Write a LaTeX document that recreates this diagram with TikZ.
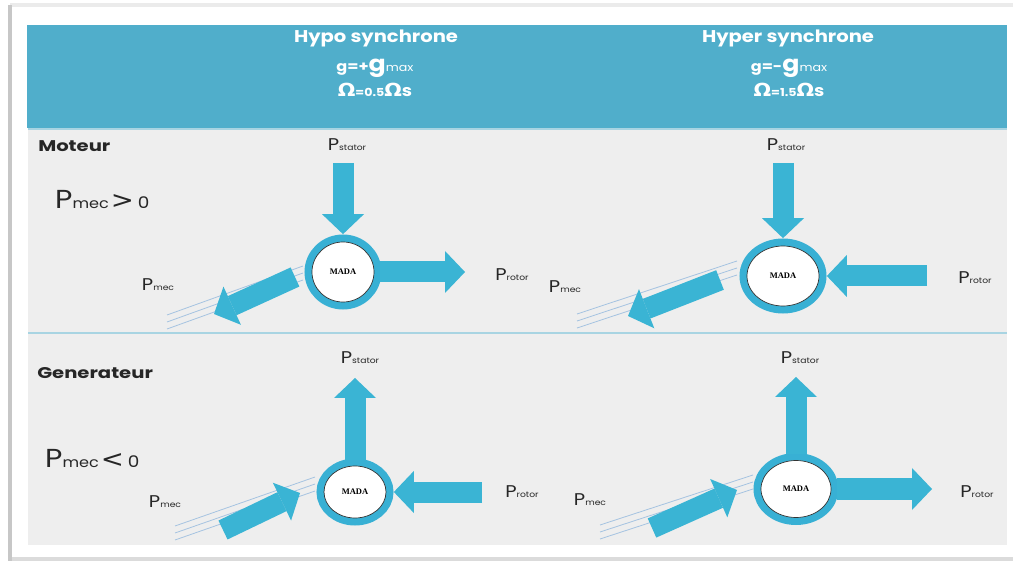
\documentclass[tikz,border=0pt]{standalone}
\usepackage{fontspec}
\setmainfont{Poppins}
\newfontfamily\grk{DejaVu Sans}
\newfontfamily\madafont{Liberation Serif}
\usetikzlibrary{arrows.meta,shapes.geometric}

\definecolor{headblue}{RGB}{80,174,203}
\definecolor{flowblue}{RGB}{58,180,212}
\definecolor{ringblue}{RGB}{56,176,212}
\definecolor{panelgrey}{RGB}{238,238,238}
\definecolor{shaftline}{RGB}{165,195,225}
\definecolor{rulelight}{RGB}{168,212,226}

\newcommand{\pl}[1]{{\fontsize{17}{17}\selectfont P}{\fontsize{8}{8}\selectfont #1}}
\newcommand{\om}{{\grk\bfseries\fontsize{18}{18}\selectfont Ω}}

\tikzset{
  flux/.style={draw=flowblue, line width=21pt, -{Triangle[width=42pt,length=20pt,line width=0pt]}},
  mada/.style={ellipse, draw=black!80, line width=0.7pt, fill=white, inner sep=0pt,
    preaction={draw=ringblue, line width=15pt},
    font=\madafont\bfseries\fontsize{8.5}{8.5}\selectfont},
  shaft/.style={draw=shaftline, line width=0.8pt},
  lab/.style={inner sep=0pt, xscale=1.15, text=black!85},
  headtxt/.style={inner sep=0pt, xscale=1.15, text=white, font=\bfseries\fontsize{17}{17}\selectfont},
}

\begin{document}
\begin{tikzpicture}[x=1pt,y=-1pt]
\useasboundingbox (0,0) rectangle (1013,561);
% page
\fill[white] (0,0) rectangle (1013,561);
\fill[black!8] (10,3) rectangle (1013,7);
\fill[black!22] (8,5) rectangle (12,561);
\fill[black!14] (12,557) rectangle (1013,561);
\fill[headblue] (27,25) rectangle (1007,128);
\fill[panelgrey] (28,128) rectangle (1007,545);
\draw[rulelight,line width=1.2pt] (28,129) -- (1007,129);
\draw[rulelight,line width=1.2pt] (28,333) -- (1007,333);

% header
\node[headtxt] (hypo) at (376,38) {Hypo synchrone};
\node[headtxt] (hypog) at (375,68) {\fontsize{14}{14}\selectfont g=+\fontsize{22}{22}\selectfont g\mdseries\fontsize{11}{11}\selectfont max};
\node[headtxt] (hypow) at (375,90) {\om\fontsize{11}{11}\selectfont =0.5\om{\fontsize{16}{16}\selectfont s}};
\node[headtxt] (hyper) at (788,38) {Hyper synchrone};
\node[headtxt] (hyperg) at (789,68) {\fontsize{14}{14}\selectfont g=-\fontsize{22}{22}\selectfont g\mdseries\fontsize{11}{11}\selectfont max};
\node[headtxt] (hyperw) at (789,90) {\om\fontsize{11}{11}\selectfont =1.5\om{\fontsize{16}{16}\selectfont s}};

% left labels
\node[lab,xscale=1.1,anchor=west,font=\bfseries\fontsize{15.5}{15.5}\selectfont] (mot) at (38,146) {Moteur};
\node[lab,anchor=west] (pmot) at (55,200) {{\fontsize{26}{26}\selectfont P}{\fontsize{14}{14}\selectfont mec}\,{\grk\fontsize{24}{24}\selectfont >}\,\,{\fontsize{16}{16}\selectfont 0}};
\node[lab,xscale=1.1,anchor=west,font=\bfseries\fontsize{15.5}{15.5}\selectfont] (gen) at (37,373) {Generateur};
\node[lab,anchor=west] (pgen) at (45,459) {{\fontsize{26}{26}\selectfont P}{\fontsize{14}{14}\selectfont mec}\,{\grk\fontsize{24}{24}\selectfont <}\,\,{\fontsize{16}{16}\selectfont 0}};

% moteur, hypo
\foreach \k in {-7,0,7} \draw[shaft,yshift=\k] (303,273) -- (167,322);
\coordinate (c1) at (295,277); \coordinate (d1) at (214,314);
\draw[flux] (c1) -- (d1);
\node[mada,minimum width=62pt,minimum height=60pt] (m1) at (343,272) {MADA};
\coordinate (s1) at (343,163); \coordinate (r1) at (465,272);
\draw[flux,shorten >=7.5pt] (s1) -- (m1);
\draw[flux,shorten <=6pt] (m1) -- (r1);
\node[lab] (ps1) at (347,145) {\pl{stator}};
\node[lab] (pr1) at (512,275) {\pl{rotor}};
\node[lab] (pm1) at (158,285) {\pl{mec}};

% moteur, hyper
\foreach \k in {-7,0,7} \draw[shaft,yshift=\k] (737,268) -- (577,321);
\coordinate (c2) at (720,280); \coordinate (d2) at (628,316);
\draw[flux] (c2) -- (d2);
\node[mada,minimum width=72pt,minimum height=60pt] (m2) at (783,276) {MADA};
\coordinate (s2) at (783,163); \coordinate (r2) at (927,276);
\draw[flux,shorten >=7.5pt] (s2) -- (m2);
\draw[flux,shorten >=7.5pt] (r2) -- (m2);
\node[lab] (ps2) at (786,145) {\pl{stator}};
\node[lab] (pr2) at (975,278) {\pl{rotor}};
\node[lab] (pm2) at (565,287) {\pl{mec}};

% generateur, hypo
\foreach \k in {-7,0,7} \draw[shaft,yshift=\k] (315,484) -- (175,533);
\coordinate (c3) at (223,530); \coordinate (d3) at (300,493);
\draw[flux] (c3) -- (d3);
\node[mada,minimum width=62pt,minimum height=52pt] (m3) at (355,492) {MADA};
\coordinate (s3) at (355,378); \coordinate (r3) at (482,492);
\draw[flux,shorten <=6pt] (m3) -- (s3);
\draw[flux,shorten >=7.5pt] (r3) -- (m3);
\node[lab] (ps3) at (360,358) {\pl{stator}};
\node[lab] (pr3) at (522,492) {\pl{rotor}};
\node[lab] (pm3) at (165,502) {\pl{mec}};

% generateur, hyper
\foreach \k in {-7,0,7} \draw[shaft,yshift=\k] (753,482) -- (600,532);
\coordinate (c4) at (652,528); \coordinate (d4) at (737,490);
\draw[flux] (c4) -- (d4);
\node[mada,minimum width=70pt,minimum height=57pt] (m4) at (796,489) {MADA};
\coordinate (s4) at (796,377); \coordinate (r4) at (932,489);
\draw[flux,shorten <=6pt] (m4) -- (s4);
\draw[flux,shorten <=6pt] (m4) -- (r4);
\node[lab] (ps4) at (800,358) {\pl{stator}};
\node[lab] (pr4) at (977,492) {\pl{rotor}};
\node[lab] (pm4) at (590,500) {\pl{mec}};
\end{tikzpicture}
\end{document}
